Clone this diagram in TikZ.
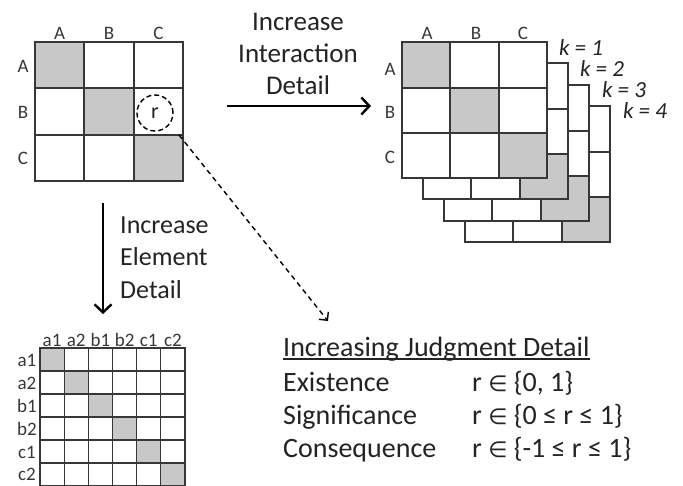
\documentclass[tikz,border=0pt]{standalone}
\usepackage{fontspec}
\setmainfont{Carlito}
\newfontfamily\lblfont{DejaVu Sans}
\usetikzlibrary{arrows.meta}
\definecolor{cellgray}{RGB}{200,200,200}
\definecolor{linegray}{RGB}{55,55,55}
\definecolor{textgray}{RGB}{35,35,35}

\begin{document}
\begin{tikzpicture}[x=1pt,y=1pt]
		\tikzstyle{every node}+=[inner sep=0pt, text=textgray]
		\tikzstyle{gridline}=[draw=linegray, line width=1.2pt]
		\tikzstyle{axislbl}=[font=\fontsize{19}{19}\selectfont, text=linegray]
		\tikzstyle{smalllbl}=[font=\fontsize{19}{19}\selectfont, text=linegray]
		\tikzstyle{klbl}=[font=\itshape\fontsize{23}{23}\selectfont]
		\tikzstyle{bodytext}=[font=\fontsize{28}{32}\selectfont, anchor=base west]
		\tikzstyle{bigarrow}=[black, line width=2.4pt, -{Straight Barb[length=8pt, width=17pt]}]
		\useasboundingbox (0,0) rectangle (683,-485);
		% matrix of elements A, B, C
		\fill [cellgray] (35,-42) rectangle (84,-88);
		\fill [cellgray] (84,-88) rectangle (134,-135);
		\fill [cellgray] (134,-135) rectangle (183,-181);
		\draw [gridline] (35,-42) rectangle (183,-181);
		\draw [gridline] (84,-42) -- (84,-181);
		\draw [gridline] (134,-42) -- (134,-181);
		\draw [gridline] (35,-88) -- (183,-88);
		\draw [gridline] (35,-135) -- (183,-135);
		\node [axislbl] (colA) at (59.5,-33) {A};
		\node [axislbl] (colB) at (109,-33) {B};
		\node [axislbl] (colC) at (158.5,-33) {C};
		\node [axislbl] (rowA) at (23,-66) {A};
		\node [axislbl] (rowB) at (23,-112) {B};
		\node [axislbl] (rowC) at (23,-158) {C};
		\node [draw=black, dash pattern=on 5pt off 3pt, line width=1.4pt, circle, minimum size=36pt, font=\fontsize{22}{22}\selectfont] (rcell) at (155,-113) {r};
		\coordinate (rcorner) at (179,-135);
		% stacked matrices, k = 4 at the back
		\foreach \dx/\dy in {63/64, 42/43, 21/21, 0/0} {
			\begin{scope}[shift={(\dx,-\dy)}]
				\fill [white] (402,-42) rectangle (547,-178);
				\fill [cellgray] (402,-42) rectangle (450,-88);
				\fill [cellgray] (450,-88) rectangle (499,-133);
				\fill [cellgray] (499,-133) rectangle (547,-178);
				\draw [gridline] (402,-42) rectangle (547,-178);
				\draw [gridline] (450,-42) -- (450,-178);
				\draw [gridline] (499,-42) -- (499,-178);
				\draw [gridline] (402,-88) -- (547,-88);
				\draw [gridline] (402,-133) -- (547,-133);
			\end{scope}
		}
		\node [axislbl] (kcolA) at (427,-33) {A};
		\node [axislbl] (kcolB) at (476,-33) {B};
		\node [axislbl] (kcolC) at (523,-33) {C};
		\node [axislbl] (krowA) at (390,-69) {A};
		\node [axislbl] (krowB) at (390,-112) {B};
		\node [axislbl] (krowC) at (390,-157) {C};
		\node [klbl] (k1) at (581,-48) {k = 1};
		\node [klbl] (k2) at (602,-69) {k = 2};
		\node [klbl] (k3) at (624,-90) {k = 3};
		\node [klbl] (k4) at (645,-111) {k = 4};
		% matrix of sub-elements
		\fill [cellgray] (40,-348) rectangle (64.2,-371);
		\fill [cellgray] (64.2,-371) rectangle (88.3,-394);
		\fill [cellgray] (88.3,-394) rectangle (112.5,-417);
		\fill [cellgray] (112.5,-417) rectangle (136.7,-440);
		\fill [cellgray] (136.7,-440) rectangle (160.8,-463);
		\fill [cellgray] (160.8,-463) rectangle (185,-486);
		\draw [gridline] (40,-348) rectangle (185,-486);
		\draw [gridline] (64.2,-348) -- (64.2,-486);
		\draw [gridline] (88.3,-348) -- (88.3,-486);
		\draw [gridline] (112.5,-348) -- (112.5,-486);
		\draw [gridline] (136.7,-348) -- (136.7,-486);
		\draw [gridline] (160.8,-348) -- (160.8,-486);
		\draw [gridline] (40,-371) -- (185,-371);
		\draw [gridline] (40,-394) -- (185,-394);
		\draw [gridline] (40,-417) -- (185,-417);
		\draw [gridline] (40,-440) -- (185,-440);
		\draw [gridline] (40,-463) -- (185,-463);
		\node [smalllbl] (ca1) at (52.1,-340) {a1};
		\node [smalllbl] (ca2) at (76.2,-340) {a2};
		\node [smalllbl] (cb1) at (100.4,-340) {b1};
		\node [smalllbl] (cb2) at (124.6,-340) {b2};
		\node [smalllbl] (cc1) at (148.7,-340) {c1};
		\node [smalllbl] (cc2) at (172.9,-340) {c2};
		\node [smalllbl] (ra1) at (27,-360) {a1};
		\node [smalllbl] (ra2) at (27,-383) {a2};
		\node [smalllbl] (rb1) at (27,-406) {b1};
		\node [smalllbl] (rb2) at (27,-429) {b2};
		\node [smalllbl] (rc1) at (27,-452) {c1};
		\node [smalllbl] (rc2) at (27,-474) {c2};
		% arrows and their texts
		\coordinate (ia0) at (227,-106);
		\coordinate (ia1) at (371,-106);
		\draw [bigarrow] (ia0) -- (ia1);
		\node [font=\fontsize{27}{32}\selectfont, anchor=base] (ia2) at (298,-30) {Increase};
		\node [font=\fontsize{27}{32}\selectfont, anchor=base] (ia3) at (298,-62) {Interaction};
		\node [font=\fontsize{27}{32}\selectfont, anchor=base] (ia4) at (298,-94) {Detail};
		\coordinate (ea0) at (103,-203);
		\coordinate (ea1) at (103,-314);
		\draw [bigarrow] (ea0) -- (ea1);
		\node [bodytext, font=\fontsize{26}{32}\selectfont] (ea2) at (120,-233) {Increase};
		\node [bodytext, font=\fontsize{26}{32}\selectfont] (ea3) at (120,-265) {Element};
		\node [bodytext, font=\fontsize{26}{32}\selectfont] (ea4) at (120,-298) {Detail};
		\coordinate (ja1) at (328,-321);
		\draw [black, line width=1.4pt, dash pattern=on 5pt off 4pt, -{Straight Barb[length=6pt, width=12pt]}] (rcorner) -- (ja1);
		% judgment detail
		\node [bodytext] (jhead) at (283,-356) {Increasing Judgment Detail};
		\draw [textgray, line width=1.3pt] ([yshift=-3pt]jhead.base west) -- ([yshift=-3pt]jhead.base east);
		\node [bodytext] (jexist) at (283,-391) {Existence};
		\node [bodytext] (jsignif) at (283,-424) {Significance};
		\node [bodytext] (jconseq) at (283,-457) {Consequence};
		\node [bodytext] (vexist) at (472,-391) {r {\lblfont\fontsize{22}{22}\selectfont ∈} \{0, 1\}};
		\node [bodytext] (vsignif) at (472,-424) {r {\lblfont\fontsize{22}{22}\selectfont ∈} \{0 ≤ r ≤ 1\}};
		\node [bodytext] (vconseq) at (472,-457) {r {\lblfont\fontsize{22}{22}\selectfont ∈} \{-1 ≤ r ≤ 1\}};
\end{tikzpicture}
\end{document}
